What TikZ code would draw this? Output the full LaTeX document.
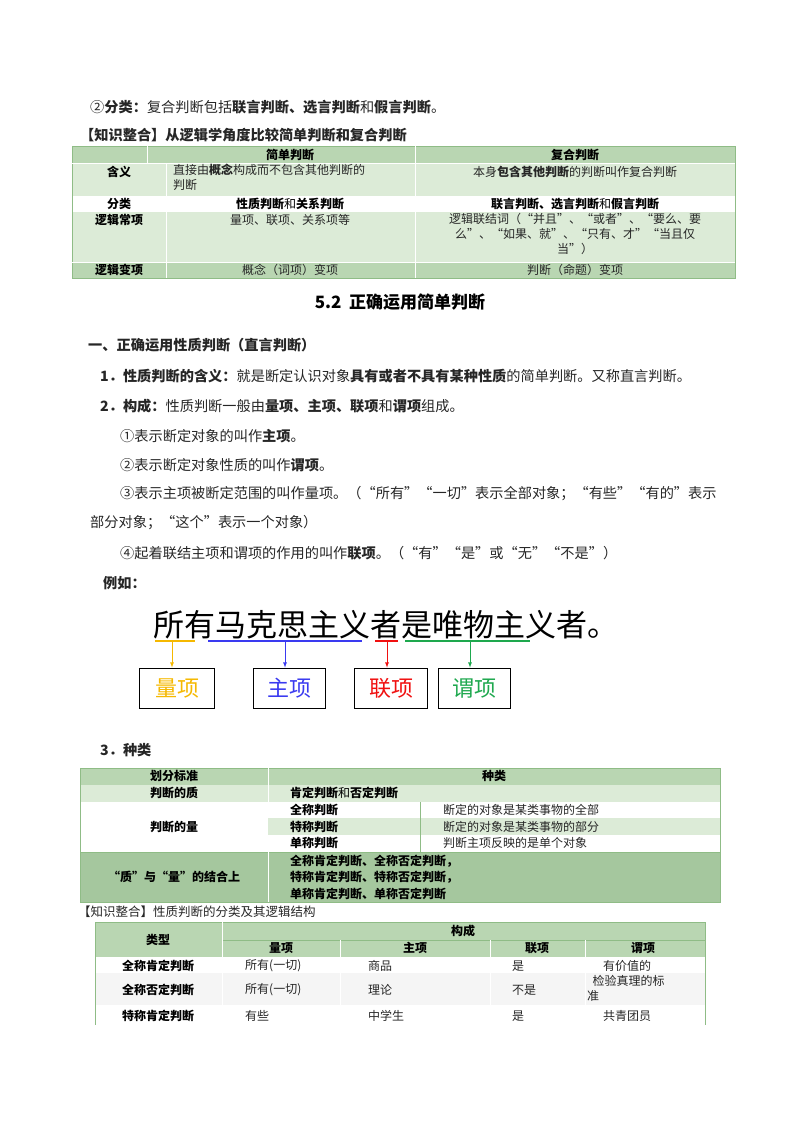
\documentclass[tikz,border=0pt]{standalone}
\usepackage{fontspec}
\setmainfont{Noto Sans CJK SC}
\begin{document}
\begin{tikzpicture}[x=1pt,y=-1pt,
 t/.style={anchor=west,inner sep=0pt,font=\fontsize{14.2}{16}\selectfont,text=black!85},
 c/.style={inner sep=0pt,font=\fontsize{12}{15}\selectfont,text=black!85},
 cb/.style={inner sep=0pt,font=\fontsize{12}{15}\selectfont\bfseries},
 box/.style={draw=black,thick,minimum width=72pt,minimum height=40pt,font=\fontsize{22}{24}\selectfont},
 ar/.style={-latex,thick}]
\definecolor{lgr}{HTML}{DCEBD7}
\definecolor{mgr}{HTML}{B9D6B2}
\definecolor{dgr}{HTML}{A5C79E}
\definecolor{bgr}{HTML}{8FBC86}
\definecolor{yel}{HTML}{F5B800}
\definecolor{blu}{HTML}{3A3AF0}
\definecolor{red1}{HTML}{F01010}
\definecolor{grn}{HTML}{1EA84E}
\useasboundingbox (0,0) rectangle (800,1132);
\node[t] (l1) at (90,107) {②\textbf{分类：}复合判断包括\textbf{联言判断、选言判断}和\textbf{假言判断}。};
\node[t] (l2) at (80,135) {\textbf{【知识整合】从逻辑学角度比较简单判断和复合判断}};
% table 1
\fill[mgr] (72,146) rectangle (735,163);
\fill[lgr] (72,163) rectangle (735,196);
\fill[lgr] (72,212) rectangle (735,262);
\fill[mgr] (72,262) rectangle (735,278);
\draw[bgr,thick] (72,146) rectangle (735,278);
\draw[white,thick] (72,163) -- (735,163) (72,262)--(735,262);
\draw[white,thick] (147,146)--(147,163) (166,163)--(166,196) (166,212)--(166,278) (415,146)--(415,196) (415,212)--(415,278);
\node[cb] (h1) at (290,155) {简单判断};
\node[cb] (h2) at (575,155) {复合判断};
\node[cb] (r1) at (119,172) {含义};
\node[c,anchor=north west,align=left] (r1a) at (173,164) {直接由\textbf{概念}构成而不包含其他判断的\\判断};
\node[c] (r1b) at (575,172) {本身\textbf{包含其他判断}的判断叫作复合判断};
\node[cb] (r2) at (119,204) {分类};
\node[cb] (r2a) at (290,204) {性质判断\textmd{和}关系判断};
\node[cb] (r2b) at (575,204) {联言判断、选言判断\textmd{和}假言判断};
\node[cb] (r3) at (119,220) {逻辑常项};
\node[c] (r3a) at (290,220) {量项、联项、关系项等};
\node[c,anchor=north,align=center] (r3b) at (575,213) {逻辑联结词（“并且”、“或者”、“要么、要\\么”、“如果、就”、“只有、才”“当且仅\\当”）};
\node[cb] (r4) at (119,270) {逻辑变项};
\node[c] (r4a) at (290,270) {概念（词项）变项};
\node[c] (r4b) at (575,270) {判断（命题）变项};
% title
\node[inner sep=0pt,font=\fontsize{17}{19}\selectfont\bfseries] (ti) at (400,302) {5.2\ \ 正确运用简单判断};
\node[t] (s1) at (88,345) {\textbf{一、正确运用性质判断（直言判断）}};
\node[t] (p1) at (100,376) {\textbf{1．性质判断的含义：}就是断定认识对象\textbf{具有或者不具有某种性质}的简单判断。又称直言判断。};
\node[t] (p2) at (100,406) {\textbf{2．构成：}性质判断一般由\textbf{量项、主项、联项}和\textbf{谓项}组成。};
\node[t] (p3) at (120,436) {①表示断定对象的叫作\textbf{主项}。};
\node[t] (p4) at (120,465) {②表示断定对象性质的叫作\textbf{谓项}。};
\node[t] (p5) at (120,494) {③表示主项被断定范围的叫作量项。（“所有”“一切”表示全部对象；“有些”“有的”表示};
\node[t] (p6) at (90,523) {部分对象；“这个”表示一个对象）};
\node[t] (p7) at (120,553) {④起着联结主项和谓项的作用的叫作\textbf{联项}。（“有”“是”或“无”“不是”）};
\node[t] (p8) at (103,583) {\textbf{例如：}};
% example
\node[anchor=west,inner sep=0pt,font=\fontsize{31}{34}\selectfont] (ex) at (153,625) {所有马克思主义者是唯物主义者。};
\coordinate (u1) at (172,641); \coordinate (u2) at (285,641); \coordinate (u3) at (387,641); \coordinate (u4) at (470,641);
\draw[yel,line width=2.5pt] (155,641)--(195,641);
\draw[blu,line width=2.5pt] (208,641)--(362,641);
\draw[red1,line width=2.5pt] (375,641)--(398,641);
\draw[grn,line width=2.5pt] (405,641)--(530,641);
\node[box,text=yel,minimum width=75pt] (b1) at (177,688) {量项};
\node[box,text=blu] (b2) at (289,688) {主项};
\node[box,text=red1,minimum width=73pt] (b3) at (391,688) {联项};
\node[box,text=grn] (b4) at (474,688) {谓项};
\draw[ar,yel] (u1) -- (u1|-b1.north);
\draw[ar,blu] (u2) -- (u2|-b2.north);
\draw[ar,red1] (u3) -- (u3|-b3.north);
\draw[ar,grn] (u4) -- (u4|-b4.north);
\node[t] (p9) at (100,750) {\textbf{3．种类}};
% table 2
\fill[mgr] (80,768) rectangle (720,785);
\fill[lgr] (80,785) rectangle (720,802);
\fill[lgr] (268,818) rectangle (720,835);
\fill[dgr] (80,852) rectangle (720,902);
\draw[bgr,thick] (80,768) rectangle (720,902);
\draw[bgr] (80,852)--(720,852) (420,802)--(420,852);
\draw[white,thick] (268,768)--(268,802) (268,852)--(268,902);
\node[cb] (k0) at (174,776) {划分标准};
\node[cb] (k1) at (494,776) {种类};
\node[cb] (k2) at (174,793) {判断的质};
\node[cb,anchor=west] (k3) at (290,793) {肯定判断\textmd{和}否定判断};
\node[cb] (k4) at (174,827) {判断的量};
\node[cb,anchor=west] (k5) at (290,810) {全称判断};
\node[cb,anchor=west] (k6) at (290,827) {特称判断};
\node[cb,anchor=west] (k7) at (290,843) {单称判断};
\node[c,anchor=west] (k8) at (443,810) {断定的对象是某类事物的全部};
\node[c,anchor=west] (k9) at (443,827) {断定的对象是某类事物的部分};
\node[c,anchor=west] (k10) at (443,843) {判断主项反映的是单个对象};
\node[cb] (k11) at (174,877) {“质”与“量”的结合上};
\node[cb,anchor=west,align=left,font=\fontsize{12}{16.5}\selectfont\bfseries] (k12) at (290,877) {全称肯定判断、全称否定判断，\\特称肯定判断、特称否定判断，\\单称肯定判断、单称否定判断};
\node[c,anchor=west,font=\fontsize{12.5}{14}\selectfont] (l3) at (78,912) {【知识整合】性质判断的分类及其逻辑结构};
% table 3
\fill[mgr] (95,922) rectangle (705,957);
\fill[black!4] (95,973) rectangle (705,1005);
\draw[bgr,thick] (95,922)--(705,922) (705,922)--(705,1025) (95,922)--(95,1025);
\draw[bgr] (222,940)--(705,940);
\draw[white,thick] (222,922)--(222,1025) (340,940)--(340,1025) (490,940)--(490,1025) (585,940)--(585,1025);
\node[cb] (m0) at (158,940) {类型};
\node[cb] (m1) at (463,931) {构成};
\node[cb] (m2) at (281,948) {量项};
\node[cb] (m3) at (415,948) {主项};
\node[cb] (m4) at (537,948) {联项};
\node[cb] (m5) at (643,948) {谓项};
\node[cb] (n1) at (158,966) {全称肯定判断};
\node[cb] (n2) at (158,990) {全称否定判断};
\node[cb] (n3) at (158,1016) {特称肯定判断};
\node[c,anchor=west] (a1) at (245,966) {所有(一切)};
\node[c,anchor=west] (a2) at (245,990) {所有(一切)};
\node[c,anchor=west] (a3) at (245,1016) {有些};
\node[c,anchor=west] (b1x) at (368,966) {商品};
\node[c,anchor=west] (b2x) at (368,990) {理论};
\node[c,anchor=west] (b3x) at (368,1016) {中学生};
\node[c,anchor=west] (c1) at (512,966) {是};
\node[c,anchor=west] (c2) at (512,990) {不是};
\node[c,anchor=west] (c3) at (512,1016) {是};
\node[c,anchor=west] (d1) at (603,966) {有价值的};
\node[c,anchor=north west,align=left] (d2) at (587,975) {\ \ 检验真理的标\\准};
\node[c,anchor=west] (d3) at (603,1016) {共青团员};
\end{tikzpicture}
\end{document}
